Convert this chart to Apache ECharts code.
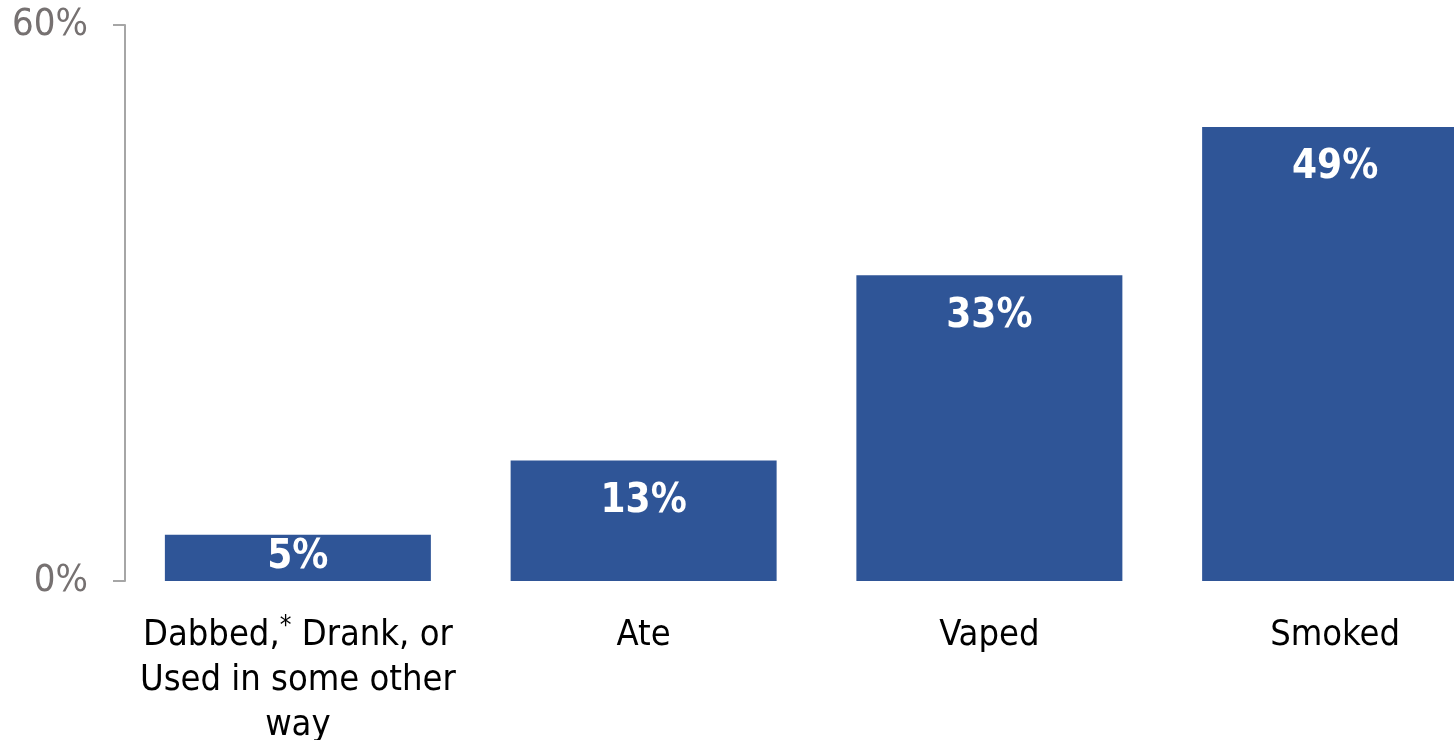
<!DOCTYPE html>
<html>
<head>
<meta charset="utf-8">
<script src="https://cdn.jsdelivr.net/npm/echarts@6/dist/echarts.min.js"></script>
<style>
  html, body { margin: 0; padding: 0; background: #fff; overflow: hidden; }
  #chart { width: 1508px; height: 740px; }
</style>
</head>
<body>
<div id="chart"></div>
<script>
// Method of use categories and share of respondents (%)
const categories = ['Dabbed,{sup|*} Drank, or\nUsed in some other\nway', 'Ate', 'Vaped', 'Smoked'];
const values = [5, 13, 33, 49];
const yTicks = [0, 60];

const FONT = '"DejaVu Sans Condensed", "DejaVu Sans", sans-serif';

// Short bars get their value centred inside; taller ones near the top
const barData = values.map(v => v < 10 ? { value: v, label: { position: 'inside' } } : v);

const chart = echarts.init(document.getElementById('chart'));
chart.setOption({
  animation: false,
  grid: { left: 125, top: 25, bottom: 159, right: 0, containLabel: false, outerBoundsMode: 'none' },
  xAxis: {
    type: 'category',
    data: categories,
    axisLine: { show: false },
    axisTick: { show: false },
    axisLabel: {
      interval: 0,
      margin: 32,
      fontFamily: FONT,
      fontSize: 36,
      lineHeight: 45,
      color: '#000',
      rich: {
        sup: { fontFamily: FONT, fontSize: 26, lineHeight: 45, padding: [0, 0, 16, 0], color: '#000' }
      }
    }
  },
  yAxis: {
    type: 'value',
    min: yTicks[0],
    max: yTicks[1],
    interval: yTicks[1] - yTicks[0],
    splitLine: { show: false },
    axisLine: { show: true, lineStyle: { color: '#a6a6a6', width: 2 } },
    axisTick: { show: true, length: 12, lineStyle: { color: '#a6a6a6', width: 2 } },
    axisLabel: {
      margin: 37,
      padding: [8, 0, 0, 0],
      fontFamily: FONT,
      fontSize: 38,
      color: '#767171',
      formatter: v => v + '%'
    }
  },
  series: [{
    type: 'bar',
    data: barData,
    barWidth: 266,
    itemStyle: { color: '#2F5597' },
    label: {
      show: true,
      position: 'insideTop',
      distance: 21,
      formatter: p => p.value + '%',
      fontFamily: FONT,
      fontWeight: 'bold',
      fontSize: 40,
      color: '#fff'
    }
  }]
});
</script>
</body>
</html>
